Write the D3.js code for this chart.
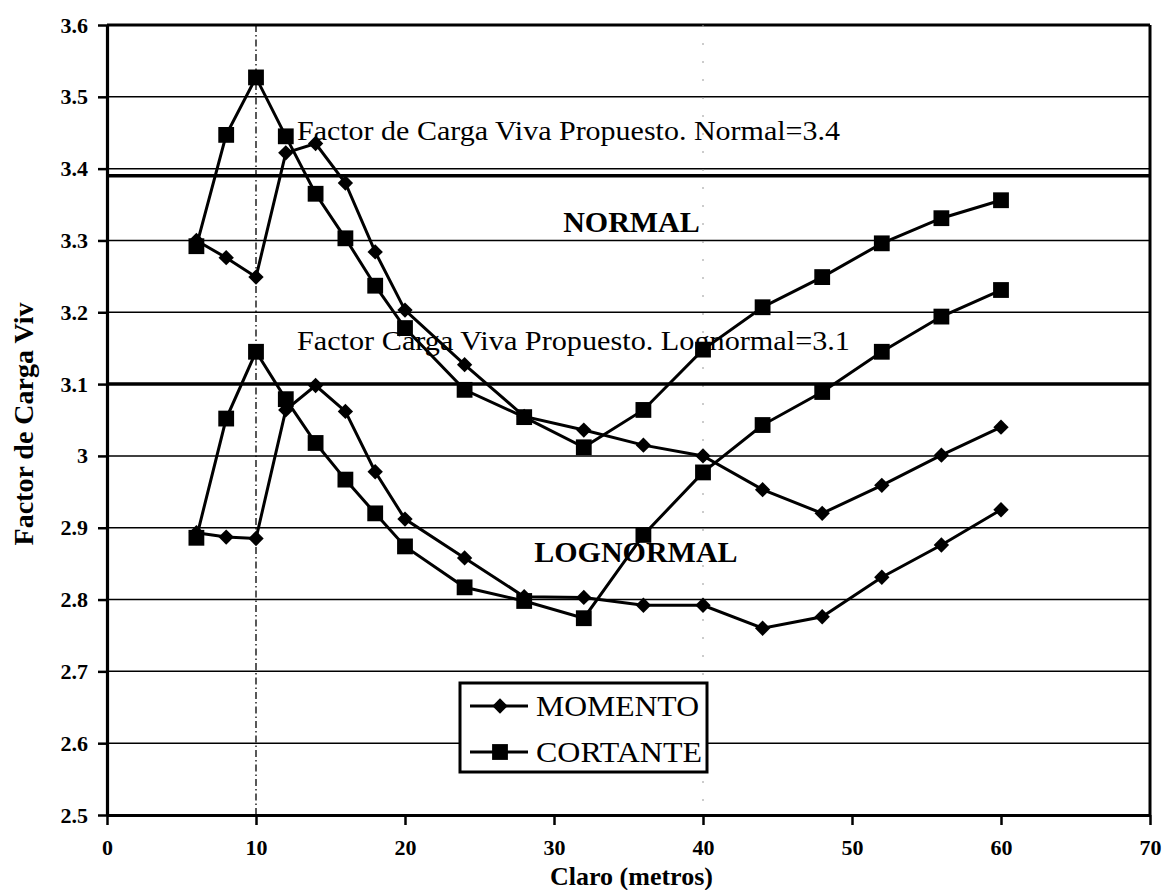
<!DOCTYPE html>
<html>
<head>
<meta charset="utf-8">
<script src="https://cdn.jsdelivr.net/npm/d3@7"></script>
<style>
  body { margin: 0; background: #fff; }
  text { font-family: "Liberation Serif", "Times New Roman", serif; fill: #000; }
</style>
</head>
<body>
<svg width="1174" height="890"></svg>
<script>
// claro (metros) and factor de carga viva
var claro = [6, 8, 10, 12, 14, 16, 18, 20, 24, 28, 32, 36, 40, 44, 48, 52, 56, 60];
var momentoNormal = [3.30, 3.276, 3.249, 3.422, 3.435, 3.380, 3.284, 3.203, 3.127, 3.055, 3.036, 3.015, 3.000, 2.953, 2.920, 2.959, 3.001, 3.040];
var cortanteNormal = [3.292, 3.447, 3.527, 3.445, 3.365, 3.303, 3.237, 3.178, 3.092, 3.054, 3.012, 3.064, 3.148, 3.207, 3.249, 3.296, 3.331, 3.356];
var momentoLognormal = [2.893, 2.887, 2.885, 3.064, 3.098, 3.062, 2.978, 2.912, 2.858, 2.804, 2.803, 2.792, 2.792, 2.760, 2.776, 2.831, 2.876, 2.925];
var cortanteLognormal = [2.886, 3.052, 3.145, 3.079, 3.018, 2.967, 2.920, 2.874, 2.817, 2.798, 2.774, 2.890, 2.977, 3.043, 3.089, 3.145, 3.194, 3.231];

var xTicks = [0, 10, 20, 30, 40, 50, 60, 70];
var yTicks = [2.5, 2.6, 2.7, 2.8, 2.9, 3.0, 3.1, 3.2, 3.3, 3.4, 3.5, 3.6];
var vLines = [10, 40];
var propuestoValores = [3.39, 3.1];
var propuestoTextos = ["Factor de Carga Viva Propuesto. Normal=3.4", "Factor Carga Viva Propuesto. Lognormal=3.1"];
var zonaTextos = ["NORMAL", "LOGNORMAL"];
var leyenda = ["MOMENTO", "CORTANTE"];

var svg = d3.select("svg"),
  width = +svg.attr("width"),
  height = +svg.attr("height");

var x = d3.scaleLinear().domain([0, 70]).range([107, 1150]);
var y = d3.scaleLinear().domain([2.5, 3.6]).range([815, 25]);

var series = [
  { name: leyenda[0], values: momentoNormal, shape: "diamond" },
  { name: leyenda[1], values: cortanteNormal, shape: "square" },
  { name: leyenda[0], values: momentoLognormal, shape: "diamond" },
  { name: leyenda[1], values: cortanteLognormal, shape: "square" }
];

var diamond = d3.symbol(d3.symbolDiamond2, 150);
var square = d3.symbol(d3.symbolSquare, 250);
function marker(shape) { return shape == "square" ? square() : diamond(); }

// horizontal grid
svg.append("g")
  .selectAll("line")
  .data(yTicks)
  .enter().append("line")
  .attr("x1", x(0)).attr("x2", x(70))
  .attr("y1", function(d) { return y(d); })
  .attr("y2", function(d) { return y(d); })
  .attr("stroke", "#000")
  .attr("stroke-width", function(d) { return d == 3.6 ? 3 : 1.5; });

// dash-dot verticals
svg.append("g")
  .selectAll("line")
  .data(vLines)
  .enter().append("line")
  .attr("x1", function(d) { return x(d); })
  .attr("x2", function(d) { return x(d); })
  .attr("y1", y(3.6)).attr("y2", y(2.5))
  .attr("stroke", function(d) { return d == 10 ? "#000" : "#999"; })
  .attr("stroke-width", function(d) { return d == 10 ? 1.3 : 1; })
  .attr("stroke-dasharray", function(d) { return d == 10 ? "7,3,1.5,3" : "2,16"; });

// right border
svg.append("line")
  .attr("x1", x(70)).attr("x2", x(70))
  .attr("y1", y(3.6)).attr("y2", y(2.5))
  .attr("stroke", "#000").attr("stroke-width", 3);

// proposed factor lines
svg.append("g")
  .selectAll("line")
  .data(propuestoValores)
  .enter().append("line")
  .attr("x1", x(0)).attr("x2", x(70))
  .attr("y1", function(d) { return y(d); })
  .attr("y2", function(d) { return y(d); })
  .attr("stroke", "#000")
  .attr("stroke-width", 3.5);

svg.append("g")
  .selectAll("text")
  .data(propuestoTextos)
  .enter().append("text")
  .attr("x", x(12.75))
  .attr("y", function(d, i) { return y(propuestoValores[i]) - (i == 0 ? 36 : 34); })
  .attr("font-size", 28)
  .attr("textLength", function(d, i) { return i == 0 ? 543 : 553; })
  .attr("lengthAdjust", "spacingAndGlyphs")
  .text(function(d) { return d; });

svg.append("g")
  .selectAll("text")
  .data(zonaTextos)
  .enter().append("text")
  .attr("x", function(d, i) { return i == 0 ? x(35.2) : x(35.5); })
  .attr("y", function(d, i) { return i == 0 ? y(3.312) : y(2.852); })
  .attr("text-anchor", "middle")
  .attr("font-size", 30)
  .attr("font-weight", "bold")
  .text(function(d) { return d; });

// axes
var yAxis = svg.append("g")
  .attr("transform", "translate(" + x(0) + ",0)")
  .call(d3.axisLeft(y).tickValues(yTicks).tickSize(9).tickSizeOuter(0).tickPadding(10)
    .tickFormat(function(d) { return String(+d.toFixed(1)); }));

var xAxis = svg.append("g")
  .attr("transform", "translate(0," + y(2.5) + ")")
  .call(d3.axisBottom(x).tickValues(xTicks).tickSize(10).tickSizeOuter(0).tickPadding(14));

[yAxis, xAxis].forEach(function(a) {
  a.select(".domain").attr("stroke", "#000").attr("stroke-width", 3.2);
  a.selectAll(".tick line").attr("stroke", "#000").attr("stroke-width", 2.5);
  a.selectAll(".tick text")
    .attr("font-family", "'Liberation Serif', 'Times New Roman', serif")
    .attr("font-size", 22)
    .attr("font-weight", "bold")
    .attr("fill", "#000");
});

// series
var line = d3.line()
  .x(function(d) { return x(d[0]); })
  .y(function(d) { return y(d[1]); });

var serie = svg.append("g")
  .selectAll("g")
  .data(series)
  .enter().append("g");

serie.append("path")
  .attr("d", function(s) { return line(claro.map(function(c, i) { return [c, s.values[i]]; })); })
  .attr("fill", "none")
  .attr("stroke", "#000")
  .attr("stroke-width", 3);

serie.selectAll(".pt")
  .data(function(s) { return claro.map(function(c, i) { return { x: c, v: s.values[i], shape: s.shape }; }); })
  .enter().append("path")
  .attr("class", "pt")
  .attr("transform", function(d) { return "translate(" + x(d.x) + "," + y(d.v) + ")"; })
  .attr("d", function(d) { return marker(d.shape); })
  .attr("fill", "#000");

// legend
var legend = svg.append("g").attr("transform", "translate(460,683)");
legend.append("rect")
  .attr("width", 247).attr("height", 89)
  .attr("fill", "#fff")
  .attr("stroke", "#000")
  .attr("stroke-width", 3);

var item = legend.selectAll(".item")
  .data(leyenda)
  .enter().append("g")
  .attr("class", "item")
  .attr("transform", function(d, i) { return "translate(0," + (23 + i * 46) + ")"; });

item.append("line")
  .attr("x1", 10).attr("x2", 68)
  .attr("stroke", "#000").attr("stroke-width", 3);
item.append("path")
  .attr("transform", "translate(40,0)")
  .attr("d", function(d, i) { return marker(i == 0 ? "diamond" : "square"); })
  .attr("fill", "#000");
item.append("text")
  .attr("x", 76).attr("y", 10)
  .attr("font-size", 29)
  .attr("textLength", function(d, i) { return i == 0 ? 163 : 166; })
  .attr("lengthAdjust", "spacingAndGlyphs")
  .text(function(d) { return d; });

// axis titles
svg.append("text")
  .attr("x", x(35.2)).attr("y", 885)
  .attr("text-anchor", "middle")
  .attr("font-size", 26)
  .attr("font-weight", "bold")
  .text("Claro (metros)");

svg.append("text")
  .attr("transform", "translate(33,424) rotate(-90)")
  .attr("text-anchor", "middle")
  .attr("font-size", 28)
  .attr("font-weight", "bold")
  .text("Factor de Carga Viv");
</script>
</body>
</html>
